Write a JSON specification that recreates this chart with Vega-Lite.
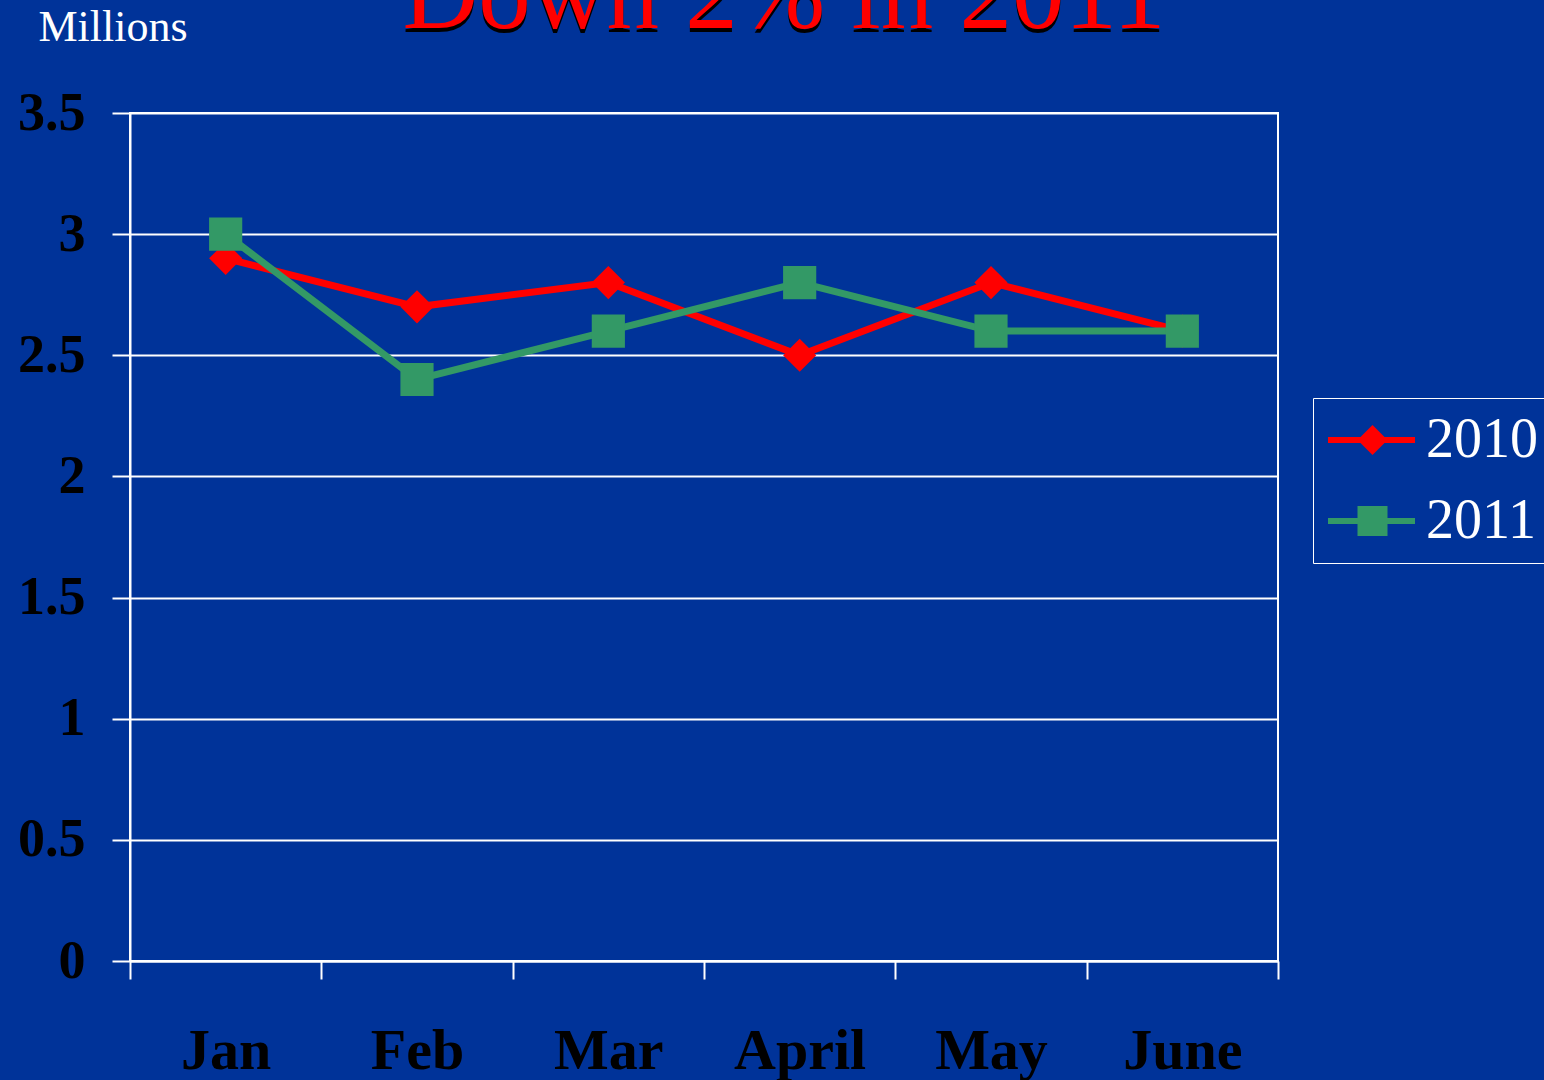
{
  "$schema": "https://vega.github.io/schema/vega-lite/v6.json",
  "width": 1148,
  "height": 848,
  "autosize": {"type": "none"},
  "padding": {"left": 130, "top": 113, "right": 266, "bottom": 119},
  "background": "#003399",
  "title": {
    "text": "Down 2% in 2011",
    "subtitle": "Down 2% in 2011",
    "color": "black",
    "subtitleColor": "#ff0000",
    "font": "Liberation Serif",
    "subtitleFont": "Liberation Serif",
    "fontSize": 105,
    "subtitleFontSize": 105,
    "fontWeight": "normal",
    "subtitleFontWeight": "normal",
    "subtitlePadding": -109,
    "anchor": "middle",
    "frame": "group",
    "dx": 80,
    "dy": 53,
    "offset": 0
  },
  "config": {"view": {"stroke": "white", "strokeWidth": 2}},
  "data": {
    "values": [
      {"month": "Jan", "year": "2010", "value": 2.9},
      {"month": "Feb", "year": "2010", "value": 2.7},
      {"month": "Mar", "year": "2010", "value": 2.8},
      {"month": "April", "year": "2010", "value": 2.5},
      {"month": "May", "year": "2010", "value": 2.8},
      {"month": "June", "year": "2010", "value": 2.6},
      {"month": "Jan", "year": "2011", "value": 3.0},
      {"month": "Feb", "year": "2011", "value": 2.4},
      {"month": "Mar", "year": "2011", "value": 2.6},
      {"month": "April", "year": "2011", "value": 2.8},
      {"month": "May", "year": "2011", "value": 2.6},
      {"month": "June", "year": "2011", "value": 2.6}
    ]
  },
  "encoding": {
    "x": {
      "field": "month",
      "type": "ordinal",
      "sort": null,
      "scale": {"type": "band", "paddingInner": 0, "paddingOuter": 0},
      "axis": {
        "title": null,
        "tickBand": "extent",
        "labelAngle": 0,
        "labelOverlap": false,
        "labelFont": "Liberation Serif",
        "labelFontSize": 58,
        "labelFontWeight": "bold",
        "labelColor": "black",
        "labelBaseline": "alphabetic",
        "labelPadding": 89,
        "tickSize": 18,
        "tickColor": "white",
        "tickWidth": 2,
        "domainColor": "white",
        "domainWidth": 2,
        "grid": false
      }
    },
    "y": {
      "field": "value",
      "type": "quantitative",
      "scale": {"domain": [0, 3.5], "nice": false},
      "axis": {
        "title": "Millions",
        "titleX": -92,
        "titleY": -73,
        "titleAngle": 0,
        "titleAlign": "left",
        "titleBaseline": "alphabetic",
        "titleFont": "Liberation Serif",
        "titleFontSize": 44,
        "titleFontWeight": "normal",
        "titleColor": "white",
        "values": [0, 0.5, 1, 1.5, 2, 2.5, 3, 3.5],
        "format": "~g",
        "labelFont": "Liberation Serif",
        "labelFontSize": 54,
        "labelFontWeight": "bold",
        "labelColor": "black",
        "labelBaseline": "middle",
        "labelPadding": 27,
        "labelOverlap": false,
        "tickSize": 18,
        "tickColor": "white",
        "tickWidth": 2,
        "domainColor": "white",
        "domainWidth": 2,
        "grid": true,
        "gridColor": "white",
        "gridWidth": 2
      }
    }
  },
  "layer": [
    {
      "mark": {"type": "line", "strokeWidth": 7},
      "encoding": {
        "stroke": {
          "field": "year",
          "type": "nominal",
          "scale": {"range": ["#ff0000", "#339966"]},
          "legend": {
            "orient": "none",
            "legendX": 1183,
            "legendY": 285,
            "title": null,
            "symbolType": "stroke",
            "symbolSize": 7569,
            "symbolStrokeWidth": 6,
            "clipHeight": 72,
            "rowPadding": 9,
            "padding": 6,
            "strokeColor": "white",
            "labelFont": "Liberation Serif",
            "labelFontSize": 56,
            "labelFontWeight": "normal",
            "labelColor": "white",
            "labelOffset": 8,
            "symbolOffset": 6
          }
        }
      }
    },
    {
      "mark": {"type": "point", "filled": true, "size": 1100, "opacity": 1, "strokeWidth": 0},
      "encoding": {
        "fill": {
          "field": "year",
          "type": "nominal",
          "scale": {"domain": ["2010", "2011"], "range": ["#ff0000", "#339966"]},
          "legend": {
            "orient": "none",
            "legendX": 1215.5,
            "legendY": 291,
            "title": null,
            "symbolSize": 900,
            "symbolStrokeWidth": 0,
            "symbolOpacity": 1,
            "clipHeight": 72,
            "rowPadding": 9,
            "padding": 0,
            "labelOpacity": 0,
            "labelFontSize": 54
          }
        },
        "shape": {
          "field": "year",
          "type": "nominal",
          "scale": {"domain": ["2010", "2011"], "range": ["diamond", "square"]},
          "legend": {
            "orient": "none",
            "legendX": 1215.5,
            "legendY": 291,
            "title": null,
            "symbolSize": 900,
            "symbolStrokeWidth": 0,
            "symbolOpacity": 1,
            "clipHeight": 72,
            "rowPadding": 9,
            "padding": 0,
            "labelOpacity": 0,
            "labelFontSize": 54
          }
        }
      }
    }
  ]
}
